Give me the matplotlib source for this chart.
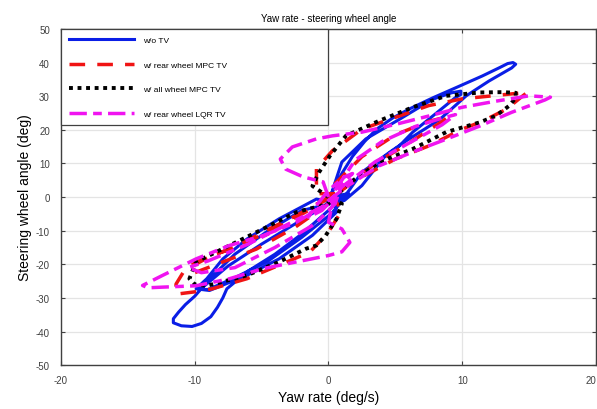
import numpy as np
import matplotlib
matplotlib.use("Agg")
import matplotlib.pyplot as plt

plt.rcParams["font.family"] = ["Liberation Sans", "DejaVu Sans"]
plt.rcParams["axes.unicode_minus"] = False

# w/o TV (blue, solid): traced loop points (yaw rate deg/s, steering angle deg)
blue_x = [0.0, 0.5, 1.0, 1.8, 2.7, 3.6, 4.8, 6.0, 7.8, 9.8, 11.5, 12.8, 13.4, 13.8, 14.0, 13.7,
          12.0, 10.3, 8.3, 6.0, 4.6, 3.5, 2.5, 1.6, 0.8, -0.9, -3.7, -6.1, -7.9, -9.1, -9.9,
          -8.9, -6.1, -3.7, -1.2, 0.6, 0.3, 1.0, 2.8, 5.3, 7.8, 9.2, 9.9, 9.9, 9.5, 7.8, 6.3,
          5.3, 4.2, 2.5, 1.2, -2.0, -4.5, -7.0, -8.8, -10.0, -10.7, -11.2, -11.6, -11.6, -11.0,
          -10.2, -9.5, -8.8, -8.3, -7.9, -7.6, -6.0, -4.0, -2.0, 0.0, 1.0, 0.0, -2.5, -5.0,
          -7.5, -9.0, -9.6, -9.0, -7.0, -4.5, -2.0, 0.2, 1.5, 0.0]
blue_y = [0.0, 3.0, 7.0, 12.1, 16.5, 20.2, 23.5, 26.1, 29.5, 33.0, 36.0, 38.5, 39.7, 40.0, 39.5, 38.4,
          34.5, 30.1, 23.0, 17.2, 13.4, 10.2, 7.4, 2.3, -2.0, -0.6, -6.5, -12.5, -18.4, -24.3, -27.3,
          -27.8, -23.3, -18.4, -11.4, -4.5, 2.0, 10.4, 17.3, 23.1, 29.1, 31.0, 31.5, 30.5, 29.6, 24.1, 19.3,
          15.2, 12.0, 3.4, -1.0, -4.0, -10.0, -17.0, -24.0, -29.5, -32.0, -34.2, -36.2, -37.4, -38.3,
          -38.5, -37.6, -35.6, -32.8, -30.0, -27.3, -22.0, -17.0, -11.0, -4.0, 0.0, -2.0, -8.0, -14.0,
          -20.5, -25.5, -27.5, -27.5, -24.0, -19.0, -12.0, -5.0, 1.0, 0.0]

# w/ rear wheel MPC TV (red, dashed)
red_x = [0.5, -0.9, -0.9, -0.7, 0.3, 0.8, 2.5, 5.0, 7.5, 10.0, 12.5, 14.0, 14.9, 14.5, 13.3,
         11.5, 10.0, 7.5, 5.0, 2.5, 0.5, -2.4, -4.9, -7.2, -9.6, -10.8, -11.4, -11.4, -10.0, -8.7,
         -6.1, -3.7, -1.4, 0.0, 1.0, 0.0, 2.5, 5.0, 7.5, 9.0, 8.5, 6.0, 3.5, 1.0, -1.5, -4.0,
         -6.5, -9.0, -10.4, -10.0, -7.9, -5.4, -2.5, 0.0]
red_y = [1.0, 1.0, 8.4, 9.3, 13.8, 15.2, 20.2, 23.7, 27.2, 29.2, 30.2, 30.8, 31.2, 30.0, 26.1,
         22.5, 20.2, 15.2, 11.3, 6.0, 1.0, -5.5, -10.4, -15.4, -18.4, -22.0, -25.9, -28.9, -28.2, -27.3,
         -24.3, -20.3, -16.4, -10.4, -4.0, 2.0, 12.0, 18.5, 22.5, 24.0, 22.5, 16.0, 10.0, 2.0, -4.0, -9.5,
         -14.0, -18.0, -21.0, -22.5, -19.3, -15.5, -9.0, -2.0]

# w/ all wheel MPC TV (black, dotted)
black_x = [0.0, -1.2, -0.7, 0.1, 1.3, 3.8, 6.3, 8.8, 11.3, 13.0, 14.0, 14.0, 13.5, 12.5, 11.3,
           8.8, 6.3, 3.8, 1.5, 0.0, -2.4, -4.9, -7.4, -9.9, -10.4, -10.0, -9.1, -6.1, -3.7, -1.7,
           -0.9, -0.2, 0.6, 1.0, 0.0]
black_y = [0.0, 3.3, 7.4, 12.2, 18.2, 22.7, 26.7, 30.1, 31.1, 31.2, 31.0, 29.5, 27.1, 24.1, 22.2,
           19.3, 14.3, 10.4, 4.0, -2.0, -4.5, -9.5, -14.4, -19.3, -24.3, -26.0, -26.4, -23.3, -19.3, -15.4,
           -14.4, -11.4, -6.5, -2.0, 0.0]

# w/ rear wheel LQR TV (magenta, dash-dot)
mag_x = [0.0, -0.4, -1.9, -3.2, -3.6, -2.7, -0.9, 0.3, 2.5, 5.0, 7.5, 10.0, 12.5, 15.0, 16.6,
         16.2, 13.7, 11.3, 8.8, 6.3, 3.8, 1.5, 0.0, -0.5, -2.4, -4.9, -7.4, -9.9, -12.4, -13.9,
         -13.5, -12.4, -9.9, -7.4, -4.9, -2.4, 0.0, 1.0, 1.6, 1.0, 0.0, 0.5, 2.0, 4.0, 6.5, 8.5,
         9.5, 8.5, 6.0, 3.5, 1.0, 0.0, -3.0, -6.0, -9.0, -10.5, -9.5, -7.0, -4.0, -1.0, 0.5,
         1.0, 1.8, 1.2, 0.0, -1.0, -1.5, -0.5, 0.5]
mag_y = [0.0, 4.5, 6.0, 8.3, 11.3, 14.9, 17.3, 18.2, 19.3, 21.6, 24.1, 26.7, 28.5, 30.1, 29.7,
         28.9, 25.2, 21.1, 17.2, 13.4, 9.3, 3.5, -1.0, -3.0, -7.5, -11.5, -14.4, -18.4, -23.3, -26.3,
         -27.0, -26.8, -26.4, -24.3, -21.3, -19.3, -17.4, -16.3, -13.5, -9.5, -7.5, 2.0, 11.0, 16.5, 21.0, 23.5,
         24.5, 21.5, 16.0, 10.5, 3.0, -2.0, -8.0, -14.0, -19.0, -21.0, -22.5, -21.0, -15.0, -8.0, -2.0,
         4.0, 7.0, 6.0, 2.0, -3.0, -6.0, -4.0, 0.0]

labels = ["w/o TV", "w/ rear wheel MPC TV", "w/ all wheel MPC TV", "w/ rear wheel LQR TV"]

fig = plt.figure(figsize=(5.97, 4.10), dpi=100)
ax = fig.add_axes([0.1022, 0.107, 0.896, 0.820])

ax.plot(blue_x, blue_y, color="#0a1ee6", lw=2.2, solid_joinstyle="round", label=labels[0])
ax.plot(red_x, red_y, color="#f01414", lw=2.5, dashes=(4.5, 3.5), label=labels[1])
ax.plot(black_x, black_y, color="black", lw=2.8, dashes=(1, 1.2), label=labels[2])
ax.plot(mag_x, mag_y, color="#f014f0", lw=2.5, dashes=(5, 1.8, 2.5, 1.8), label=labels[3])

ax.set_xlim(-20, 20)
ax.set_ylim(-50, 50)
ax.set_xticks(np.arange(-20, 21, 10))
ax.set_yticks(np.arange(-50, 51, 10))
ax.grid(True, color="#e4e4e4", lw=0.9)
ax.set_axisbelow(True)
ax.tick_params(direction="in", top=True, right=True, length=3, width=0.8,
               labelsize=7, labelcolor="#404040", color="#404040")
ax.tick_params(axis="x", pad=7)
ax.tick_params(axis="y", pad=8)
for s in ax.spines.values():
    s.set_color("#404040")
    s.set_linewidth(1.0)

# last x tick label sits at the figure edge, keep it inside
ax.get_xticklabels()[-1].set_horizontalalignment("right")

ax.set_title("Yaw rate - steering wheel angle", fontsize=7, pad=6)
ax.set_xlabel("Yaw rate (deg/s)", fontsize=10, labelpad=4)
ax.set_ylabel("Steering wheel angle (deg)", fontsize=10, labelpad=3)

leg = ax.legend(loc="upper left", bbox_to_anchor=(0.0, 0.5, 0.499, 0.5), mode="expand",
                borderaxespad=0, fontsize=6, handlelength=7.8, handletextpad=1.2,
                labelspacing=2.0, borderpad=0.9, fancybox=False, framealpha=1,
                edgecolor="#404040")
leg.get_frame().set_linewidth(0.9)

fig.savefig("out.png", dpi=100)
